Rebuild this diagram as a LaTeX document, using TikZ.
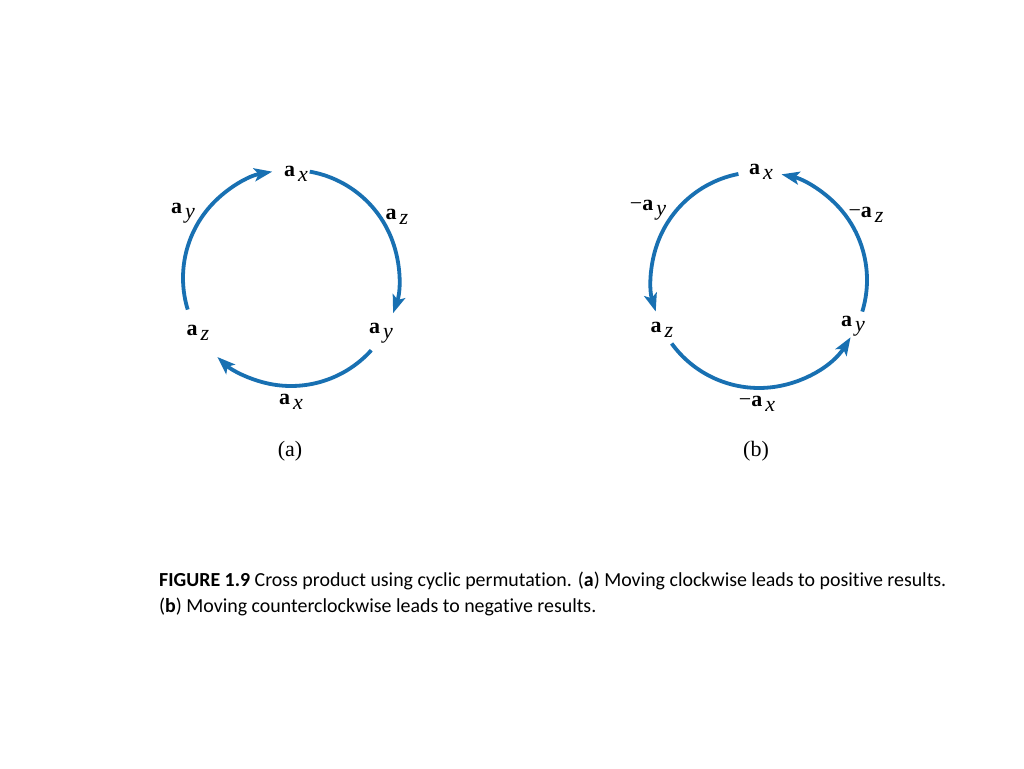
\documentclass[tikz,border=0pt]{standalone}
\usepackage{fontspec}
\setmainfont{Liberation Serif}
\newfontfamily\capfont[Ligatures={NoCommon}]{Carlito}
\usetikzlibrary{arrows.meta}
\definecolor{arcblue}{RGB}{24,112,178}
\newcommand{\vlab}[2]{{\bfseries #1}\kern3pt\raisebox{-0.45ex}{\itshape #2}}
\tikzset{
  arcline/.style={draw=arcblue, line width=3.8pt, -{Stealth[length=18pt,width=13pt,inset=4pt]}},
  vlabel/.style={font=\fontsize{22}{26}\selectfont, inner sep=0pt},
  sublabel/.style={font=\fontsize{22}{26}\selectfont, inner sep=0pt},
  captxt/.style={font=\capfont\fontsize{19.9}{24}\selectfont, inner sep=0pt, anchor=base west}
}
\begin{document}
\begin{tikzpicture}[x=1pt,y=1pt]
\useasboundingbox[fill=white] (0,0) rectangle (1024,768);
% circle (a)
\coordinate (ca) at (291,490);
\draw[arcline] (ca) ++(197:108) arc[start angle=197, end angle=100, radius=108];
\draw[arcline] (ca) ++(80:108) arc[start angle=80, end angle=-19, radius=108];
\draw[arcline] (ca) ++(-42:108) arc[start angle=-42, end angle=-133, radius=108];
\node[vlabel] (ax1) at (296,594) {\vlab{a}{x}};
\node[vlabel] (ay1) at (183,555) {\vlab{a}{y}};
\node[vlabel] (az1) at (397,551) {\vlab{a}{z}};
\node[vlabel] (az2) at (198,435) {\vlab{a}{z}};
\node[vlabel] (ay2) at (381,435) {\vlab{a}{y}};
\node[vlabel] (ax2) at (291,366) {\vlab{a}{x}};
\node[sublabel] (sa) at (290,317) {(a)};
% circle (b)
\coordinate (cb) at (759,488);
\draw[arcline] (cb) ++(101:108) arc[start angle=101, end angle=197, radius=108];
\draw[arcline] (cb) ++(-144:108) arc[start angle=-144, end angle=-32, radius=108];
\draw[arcline] (cb) ++(-17:108) arc[start angle=-17, end angle=78, radius=108];
\node[vlabel] (bx1) at (761,596) {\vlab{a}{x}};
\node[vlabel] (by1) at (648,558) {−\vlab{a}{y}};
\node[vlabel] (bz1) at (866,553) {−\vlab{a}{z}};
\node[vlabel] (bz2) at (662,438) {\vlab{a}{z}};
\node[vlabel] (by2) at (853,442) {\vlab{a}{y}};
\node[vlabel] (bx2) at (757,364) {−\vlab{a}{x}};
\node[sublabel] (sb) at (756,317) {(b)};
% caption
\node[captxt] (cap1) at (159,181) {\textbf{FIGURE 1.9} Cross product using cyclic permutation. (\textbf{a}) Moving clockwise leads to positive results.};
\node[captxt] (cap2) at (159,155) {(\textbf{b}) Moving counterclockwise leads to negative results.};
\end{tikzpicture}
\end{document}
